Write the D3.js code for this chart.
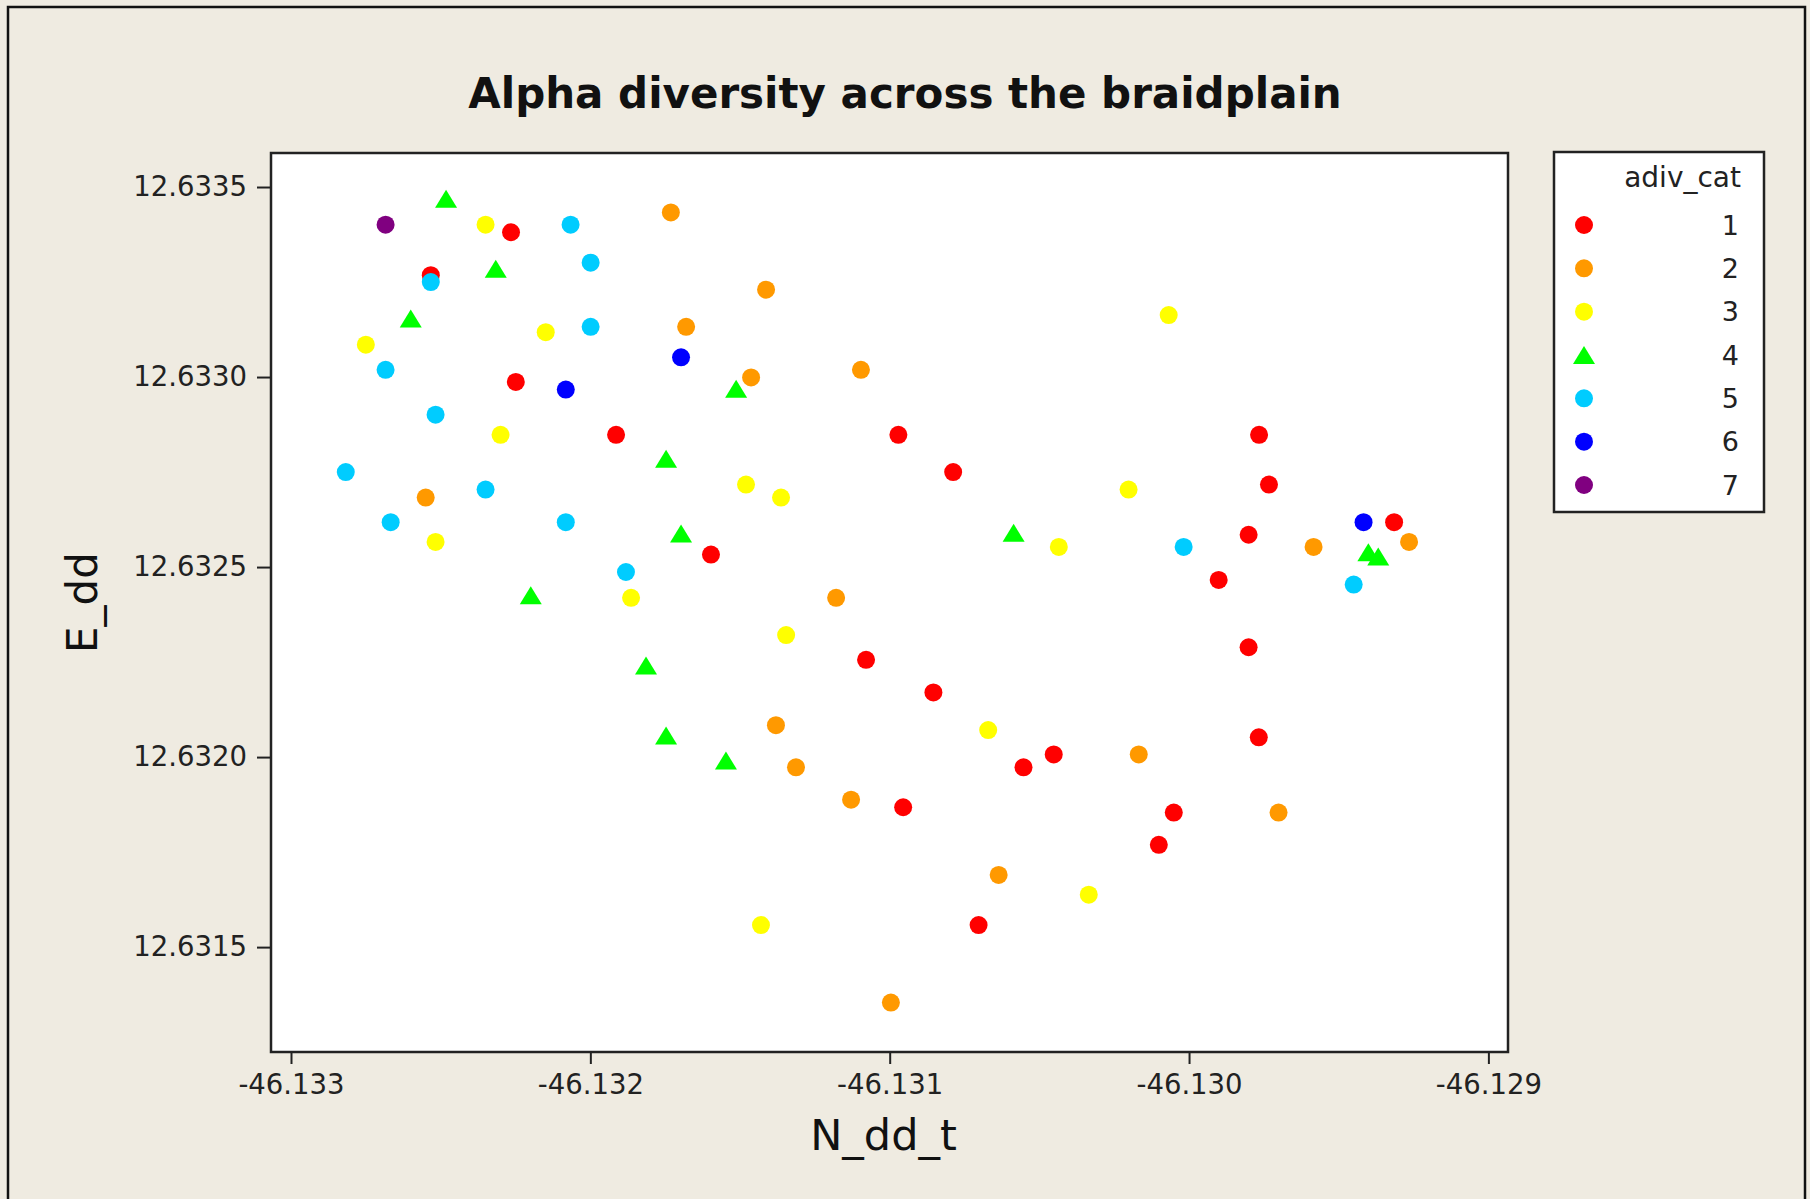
<!DOCTYPE html>
<html>
<head>
<meta charset="utf-8">
<script src="https://cdn.jsdelivr.net/npm/d3@7"></script>
<style>
  html, body { margin: 0; padding: 0; background: #EFEBE1; }
  svg { display: block; }
</style>
</head>
<body>
<svg id="chart" width="1810" height="1199"></svg>
<script>
// adiv_cat categories
const categories = ["1", "2", "3", "4", "5", "6", "7"];

// points per category: [N_dd_t, E_dd]
const cat1 = [
  [-46.132265, 12.633381], [-46.132533, 12.633268], [-46.132249, 12.632987], [-46.131914, 12.632848],
  [-46.130971, 12.632848], [-46.130788, 12.632750], [-46.131597, 12.632533], [-46.131079, 12.632256],
  [-46.130854, 12.632170], [-46.130553, 12.631973], [-46.130955, 12.631868], [-46.130703, 12.631558],
  [-46.129766, 12.632848], [-46.129733, 12.632717], [-46.129801, 12.632585], [-46.129315, 12.632618],
  [-46.129901, 12.632466], [-46.129801, 12.632289], [-46.129767, 12.632052], [-46.130452, 12.632007],
  [-46.130051, 12.631854], [-46.130101, 12.631769]
];
const cat2 = [
  [-46.132550, 12.632683], [-46.131731, 12.633433], [-46.131413, 12.633230], [-46.131680, 12.633132],
  [-46.131463, 12.632999], [-46.131096, 12.633019], [-46.131179, 12.632419], [-46.131380, 12.632084],
  [-46.131313, 12.631973], [-46.131129, 12.631888], [-46.130636, 12.631690], [-46.130996, 12.631354],
  [-46.129584, 12.632553], [-46.129265, 12.632566], [-46.130168, 12.632007], [-46.129701, 12.631854]
];
const cat3 = [
  [-46.132350, 12.633401], [-46.132149, 12.633118], [-46.132750, 12.633085], [-46.132300, 12.632848],
  [-46.132517, 12.632566], [-46.131480, 12.632717], [-46.131363, 12.632683], [-46.131864, 12.632419],
  [-46.131346, 12.632321], [-46.130671, 12.632071], [-46.131430, 12.631558], [-46.130068, 12.633163],
  [-46.130202, 12.632704], [-46.130435, 12.632553], [-46.130335, 12.631638]
];
const cat4 = [
  [-46.132482, 12.633469], [-46.132316, 12.633285], [-46.132600, 12.633154], [-46.132199, 12.632426],
  [-46.131513, 12.632969], [-46.131747, 12.632785], [-46.131697, 12.632588], [-46.130586, 12.632590],
  [-46.131814, 12.632241], [-46.131747, 12.632057], [-46.131547, 12.631991], [-46.129401, 12.632539],
  [-46.129368, 12.632528]
];
const cat5 = [
  [-46.132066, 12.633401], [-46.131999, 12.633301], [-46.132533, 12.633250], [-46.131999, 12.633132],
  [-46.132684, 12.633019], [-46.132517, 12.632901], [-46.132817, 12.632750], [-46.132350, 12.632704],
  [-46.132667, 12.632618], [-46.132082, 12.632618], [-46.131881, 12.632487], [-46.130018, 12.632553],
  [-46.129450, 12.632454]
];
const cat6 = [
  [-46.132082, 12.632967], [-46.131697, 12.633052], [-46.129417, 12.632618]
];
const cat7 = [
  [-46.132684, 12.633401]
];
const seriesData = [cat1, cat2, cat3, cat4, cat5, cat6, cat7];

const xTicks = [-46.133, -46.132, -46.131, -46.130, -46.129];
const yTicks = [12.6315, 12.6320, 12.6325, 12.6330, 12.6335];

const chartTitle = "Alpha diversity across the braidplain";
const xTitle = "N_dd_t";
const yTitle = "E_dd";
const legendTitle = "adiv_cat";

// styles
const colors = ["#FF0000", "#FF9900", "#FFFF00", "#00FF00", "#00CCFF", "#0000FF", "#800080"];
const shapes = ["circle", "circle", "circle", "triangle", "circle", "circle", "circle"];

const svg = d3.select("#chart");
const font = "'DejaVu Sans', Verdana, sans-serif";

// outer frame
svg.append("rect")
  .attr("x", 8).attr("y", 7).attr("width", 1797).attr("height", 1210)
  .attr("fill", "#EFEBE1").attr("stroke", "#111").attr("stroke-width", 2.5);

const margin = { left: 271, top: 153, right: 302, bottom: 147 };
const width = 1810 - margin.left - margin.right;   // 1237
const height = 1199 - margin.top - margin.bottom;  // 899

const x = d3.scaleLinear().domain([-46.1330668, -46.1289345]).range([0, width]);
const y = d3.scaleLinear().domain([12.631224, 12.6335895]).range([height, 0]);

const g = svg.append("g").attr("transform", "translate(" + margin.left + "," + margin.top + ")");

g.append("rect")
  .attr("width", width).attr("height", height)
  .attr("fill", "#fff");

// axes
const xAxis = d3.axisBottom(x).tickValues(xTicks).tickSize(12).tickPadding(10)
  .tickFormat(d => d.toFixed(3));
const yAxis = d3.axisLeft(y).tickValues(yTicks).tickSize(14).tickPadding(10)
  .tickFormat(d => d.toFixed(4));

const gx = g.append("g").attr("transform", "translate(0," + height + ")").call(xAxis);
const gy = g.append("g").call(yAxis);
[gx, gy].forEach(a => {
  a.select(".domain").remove();
  a.selectAll(".tick line").attr("stroke", "#222").attr("stroke-width", 2);
  a.selectAll(".tick text").attr("fill", "#222").style("font-family", font).style("font-size", "27.5px");
});

// symbols
function triPath(w, h) {
  return "M0," + (-h / 2) + "L" + (w / 2) + "," + (h / 2) + "L" + (-w / 2) + "," + (h / 2) + "Z";
}
function drawMarker(sel, shape, color) {
  if (shape === "triangle") {
    sel.append("path").attr("d", triPath(22, 18)).attr("fill", color);
  } else {
    sel.append("circle").attr("r", 9).attr("fill", color);
  }
}

seriesData.forEach((pts, i) => {
  g.append("g").selectAll("g")
    .data(pts)
    .enter()
    .append("g")
    .attr("transform", d => "translate(" + x(d[0]) + "," + y(d[1]) + ")")
    .each(function () { drawMarker(d3.select(this), shapes[i], colors[i]); });
});

// plot frame
g.append("rect")
  .attr("width", width).attr("height", height)
  .attr("fill", "none").attr("stroke", "#222").attr("stroke-width", 2.5);

// titles
svg.append("text")
  .attr("x", 905).attr("y", 108)
  .attr("text-anchor", "middle")
  .style("font-family", font).style("font-weight", "bold").style("font-size", "42px")
  .attr("fill", "#111")
  .text(chartTitle);

svg.append("text")
  .attr("x", margin.left + width / 2 - 6).attr("y", 1150)
  .attr("text-anchor", "middle")
  .style("font-family", font).style("font-size", "43px")
  .attr("fill", "#111")
  .text(xTitle);

svg.append("text")
  .attr("transform", "translate(97," + (margin.top + height / 2) + ") rotate(-90)")
  .attr("text-anchor", "middle")
  .style("font-family", font).style("font-size", "42px")
  .attr("fill", "#111")
  .text(yTitle);

// legend
const legend = svg.append("g").attr("transform", "translate(1554,152)");
legend.append("rect")
  .attr("width", 210).attr("height", 360)
  .attr("fill", "#fff").attr("stroke", "#222").attr("stroke-width", 2.5);
legend.append("text")
  .attr("x", 187).attr("y", 35)
  .attr("text-anchor", "end")
  .style("font-family", font).style("font-size", "28px")
  .attr("fill", "#222")
  .text(legendTitle);

const ly = d3.scalePoint().domain(categories).range([73, 333]);
const items = legend.selectAll(".item")
  .data(categories)
  .enter()
  .append("g")
  .attr("class", "item")
  .attr("transform", d => "translate(0," + ly(d) + ")");
items.each(function (d, i) {
  const it = d3.select(this);
  const m = it.append("g").attr("transform", "translate(30,0)");
  drawMarker(m, shapes[i], colors[i]);
  it.append("text")
    .attr("x", 185).attr("y", 0).attr("dy", "0.36em")
    .attr("text-anchor", "end")
    .style("font-family", font).style("font-size", "27px")
    .attr("fill", "#222")
    .text(d);
});
</script>
</body>
</html>
